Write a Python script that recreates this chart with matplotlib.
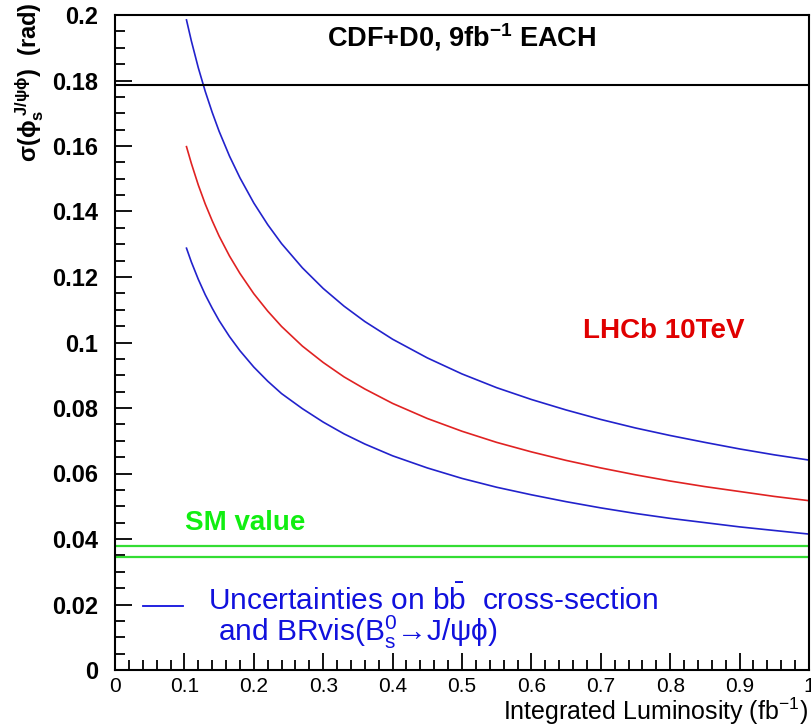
import matplotlib
matplotlib.use("Agg")
import matplotlib.pyplot as plt
from matplotlib.ticker import MultipleLocator

plt.rcParams["mathtext.default"] = "regular"
plt.rcParams["mathtext.fontset"] = "custom"
plt.rcParams["mathtext.rm"] = "Liberation Sans"
plt.rcParams["mathtext.bf"] = "Liberation Sans:bold"

# Data
lumi = [0.103, 0.11, 0.12, 0.13, 0.14, 0.15, 0.165, 0.18, 0.2, 0.22, 0.24, 0.27, 0.3,
        0.33, 0.36, 0.4, 0.45, 0.5, 0.55, 0.6, 0.65, 0.7, 0.75, 0.8, 0.85, 0.9, 0.95, 1.0]
sigma_upper = [0.1985, 0.1921, 0.1839, 0.1767, 0.1703, 0.1645, 0.1569, 0.1503, 0.1426,
               0.1360, 0.1302, 0.1228, 0.1165, 0.1111, 0.1064, 0.1010, 0.0953, 0.0904,
               0.0862, 0.0826, 0.0794, 0.0765, 0.0739, 0.0716, 0.0695, 0.0675, 0.0657,
               0.0641]
sigma_central = [0.1598, 0.1547, 0.1481, 0.1423, 0.1372, 0.1325, 0.1264, 0.1211, 0.1149,
                 0.1096, 0.1049, 0.0989, 0.0939, 0.0895, 0.0858, 0.0814, 0.0768, 0.0729,
                 0.0695, 0.0666, 0.0640, 0.0617, 0.0596, 0.0577, 0.0560, 0.0545, 0.0530,
                 0.0517]
sigma_lower = [0.1288, 0.1246, 0.1193, 0.1146, 0.1105, 0.1067, 0.1018, 0.0975, 0.0925,
               0.0882, 0.0844, 0.0798, 0.0757, 0.0721, 0.0690, 0.0654, 0.0617, 0.0585,
               0.0558, 0.0535, 0.0514, 0.0495, 0.0478, 0.0463, 0.0450, 0.0437, 0.0426,
               0.0415]
cdf_d0_value = 0.1787
sm_values = [0.0380, 0.0344]

x_ticks = [0, 0.1, 0.2, 0.3, 0.4, 0.5, 0.6, 0.7, 0.8, 0.9, 1.0]
x_ticklabels = ["0", "0.1", "0.2", "0.3", "0.4", "0.5", "0.6", "0.7", "0.8", "0.9", "1"]
y_ticks = [0, 0.02, 0.04, 0.06, 0.08, 0.1, 0.12, 0.14, 0.16, 0.18, 0.2]
y_ticklabels = ["0", "0.02", "0.04", "0.06", "0.08", "0.1", "0.12", "0.14", "0.16", "0.18", "0.2"]

blue = "#2222CC"
red = "#E02222"
green = "#33DD33"
FAM = ["Liberation Sans", "DejaVu Sans"]

fig = plt.figure(figsize=(8.12, 7.28), dpi=100)
ax = fig.add_axes([115/812, 58/728, 694/812, 655/728])

ax.plot(lumi, sigma_upper, color=blue, lw=1.2)
ax.plot(lumi, sigma_central, color=red, lw=1.2)
ax.plot(lumi, sigma_lower, color=blue, lw=1.2)
ax.axhline(cdf_d0_value, color="black", lw=1.5)
for v in sm_values:
    ax.axhline(v, color=green, lw=1.6)

ax.set_xlim(0, 1)
ax.set_ylim(0, 0.2)
ax.set_xticks(x_ticks)
ax.set_xticklabels(x_ticklabels, fontsize=15, family=FAM)
ax.set_yticks(y_ticks)
ax.set_yticklabels(y_ticklabels, fontsize=17, fontweight="bold", family=FAM)
ax.xaxis.set_minor_locator(MultipleLocator(0.02))
ax.yaxis.set_minor_locator(MultipleLocator(0.005))
ax.tick_params(which="both", direction="in", top=False, right=False, width=1.3)
ax.tick_params(which="major", length=12)
ax.tick_params(which="minor", length=7)
ax.tick_params(axis="x", pad=5)
ax.tick_params(axis="y", pad=12)
for s in ax.spines.values():
    s.set_linewidth(1.5)

fig.text(808/812, 1/728, r"Integrated Luminosity (fb$^{-1}$)",
         ha="right", va="bottom", fontsize=18, family=FAM)
fig.text(30/812, 1 - 2/728, r"$\sigma(\phi_s^{\;J/\psi\phi})$  (rad)", rotation=90,
         ha="center", va="top", fontsize=17, fontweight="bold", family=FAM)

fig.text(462/812, 1 - 37/728, r"CDF+D0, 9fb$\mathbf{^{-1}}$ EACH", ha="center", va="center",
         fontsize=19.5, fontweight="bold", family=FAM)
fig.text(664/812, 1 - 331/728, "LHCb 10TeV", ha="center", va="center",
         fontsize=20, fontweight="bold", color="#E00000", family=FAM)
fig.text(245/812, 1 - 523/728, "SM value", ha="center", va="center",
         fontsize=20, fontweight="bold", color="#11EE11", family=FAM)

# legend
ax.plot([0.04, 0.098], [0.0195, 0.0195], color="#1111DD", lw=1.3)
fig.text(208/812, 1 - 600/728, r"Uncertainties on b$\bar{b}$  cross-section",
         ha="left", va="center", fontsize=21.5, color="#1111DD", family=FAM)
fig.text(218/812, 1 - 632/728, "and BRvis(B$_s^0$\u2192J/\u03c8\u03d5)",
         ha="left", va="center", fontsize=21.5, color="#1111DD", family=FAM)

fig.savefig("out.png", dpi=100)
